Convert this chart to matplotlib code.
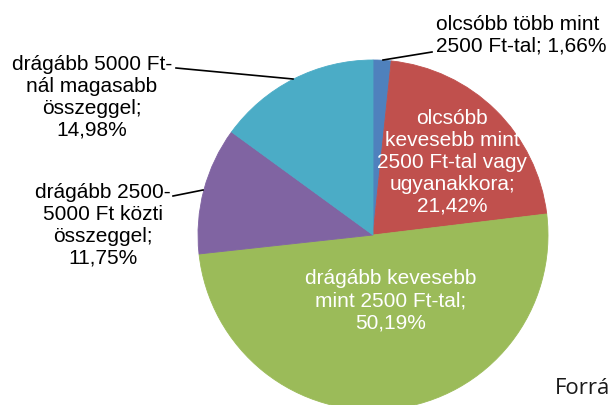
import matplotlib.pyplot as plt

# slices, clockwise from 12 o'clock
shares = [1.66, 21.42, 50.19, 11.75, 14.98]
labels = [
    "olcsóbb több mint\n2500 Ft-tal; 1,66%",
    "olcsóbb\nkevesebb mint\n2500 Ft-tal vagy\nugyanakkora;\n21,42%",
    "drágább kevesebb\nmint 2500 Ft-tal;\n50,19%",
    "drágább 2500-\n5000 Ft közti\nösszeggel;\n11,75%",
    "drágább 5000 Ft-\nnál magasabb\nösszeggel;\n14,98%",
]
colors = ['#4F81BD', '#C0504D', '#9BBB59', '#8064A2', '#4BACC6']

W, H = 609, 405
plt.rcParams['font.family'] = ['Liberation Sans', 'DejaVu Sans']

fig = plt.figure(figsize=(W / 100, H / 100), dpi=100)
ax = fig.add_axes([0, 0, 1, 1])

def py(y):
    # pixel row (from top) -> data y
    return H - y

wedges, _ = ax.pie(shares, colors=colors, startangle=90, counterclock=False,
                   center=(373, py(235)), radius=175)
for w, c in zip(wedges, colors):
    w.set_edgecolor(c)
    w.set_linewidth(0.6)
ax.set_xlim(0, W)
ax.set_ylim(0, H)
ax.set_aspect('equal')
ax.axis('off')

fs = 15
ls = 1.2
# outside labels
ax.text(436, py(35), labels[0], ha='left', va='center', fontsize=fs,
        linespacing=ls, color='black')
ax.text(92, py(97), labels[4], ha='center', va='center', fontsize=fs,
        linespacing=ls, color='black')
ax.text(103, py(225), labels[3], ha='center', va='center', fontsize=fs,
        linespacing=ls, color='black')
# inside labels
ax.text(452, py(162), labels[1], ha='center', va='center', fontsize=fs,
        linespacing=ls, color='white')
ax.text(391, py(301), labels[2], ha='center', va='center', fontsize=fs,
        linespacing=ls, color='white')

# leader lines
ax.plot([383, 432], [py(60), py(52)], color='black', lw=1.2)
ax.plot([176, 293], [py(68), py(79)], color='black', lw=1.2)
ax.plot([173, 203], [py(196), py(190)], color='black', lw=1.2)

ax.text(555, py(389), "Forrá", ha='left', va='center', fontsize=16,
        color='#1a1a1a', family=['Open Sans', 'DejaVu Sans'])

fig.savefig('out.png', dpi=100)
